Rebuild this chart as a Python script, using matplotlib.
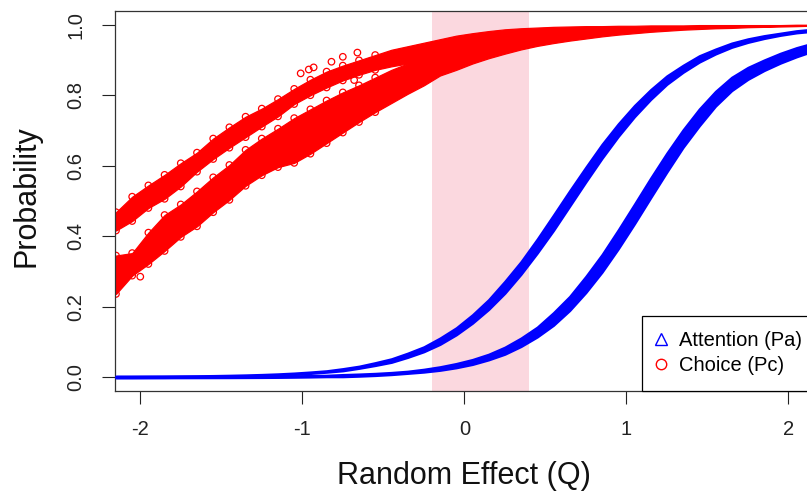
import numpy as np
import matplotlib.pyplot as plt
from matplotlib.lines import Line2D

plt.rcParams['font.family'] = ['Liberation Sans', 'DejaVu Sans']

# ---------------- data ----------------
# common x positions (Random Effect Q)
q = [-2.15, -2.05, -1.95, -1.85, -1.75, -1.65, -1.55, -1.45, -1.35, -1.25,
     -1.15, -1.05, -0.95, -0.85, -0.75, -0.65, -0.55, -0.45, -0.35, -0.25,
     -0.15, -0.05, 0.05, 0.15, 0.25, 0.35, 0.45, 0.55, 0.65, 0.75,
     0.85, 0.95, 1.05, 1.15, 1.25, 1.35, 1.45, 1.55, 1.65, 1.75,
     1.85, 1.95, 2.05, 2.12]

# Choice (Pc), upper group: lower / upper edge of the point cloud
pc1_lo = [0.416, 0.443, 0.480, 0.506, 0.541, 0.583, 0.619, 0.651, 0.681, 0.711,
          0.740, 0.775, 0.800, 0.822, 0.842, 0.858, 0.872, 0.882, 0.890, 0.900,
          0.910, 0.920, 0.930, 0.940, 0.948, 0.955, 0.960, 0.965, 0.970, 0.974,
          0.977, 0.980, 0.983, 0.986, 0.988, 0.990, 0.992, 0.993, 0.994, 0.995,
          0.996, 0.997, 0.997, 0.998]
pc1_hi = [0.468, 0.512, 0.544, 0.574, 0.607, 0.637, 0.677, 0.709, 0.739, 0.762,
          0.789, 0.818, 0.844, 0.867, 0.884, 0.899, 0.914, 0.929, 0.939, 0.949,
          0.959, 0.969, 0.976, 0.982, 0.987, 0.990, 0.992, 0.994, 0.995, 0.996,
          0.996, 0.997, 0.997, 0.998, 0.998, 0.998, 0.999, 0.999, 0.999, 0.999,
          0.999, 0.999, 1.000, 1.000]

# Choice (Pc), lower group
pc2_lo = [0.236, 0.288, 0.321, 0.358, 0.398, 0.428, 0.468, 0.503, 0.543, 0.573,
          0.596, 0.608, 0.634, 0.664, 0.694, 0.724, 0.752, 0.778, 0.804, 0.828,
          0.856, 0.872, 0.890, 0.905, 0.918, 0.930, 0.940, 0.948, 0.955, 0.961,
          0.967, 0.972, 0.976, 0.980, 0.983, 0.986, 0.988, 0.990, 0.991, 0.993,
          0.994, 0.995, 0.996, 0.997]
pc2_hi = [0.345, 0.352, 0.410, 0.460, 0.490, 0.527, 0.567, 0.602, 0.645, 0.677,
          0.705, 0.735, 0.760, 0.785, 0.808, 0.828, 0.850, 0.872, 0.890, 0.903,
          0.915, 0.925, 0.935, 0.945, 0.952, 0.958, 0.963, 0.967, 0.971, 0.975,
          0.978, 0.981, 0.984, 0.987, 0.989, 0.991, 0.992, 0.993, 0.994, 0.995,
          0.996, 0.997, 0.997, 0.998]

# stray Choice points outside the main clouds
pc_out_q = [-2.07, -2.00, -1.01, -0.96, -0.93, -0.82, -0.75, -0.66, -0.68]
pc_out_p = [0.290, 0.285, 0.862, 0.873, 0.879, 0.895, 0.909, 0.921, 0.843]

# Attention (Pa), left group: centre and half-width of the band
pa1_mid = [0.0005, 0.0006, 0.0008, 0.001, 0.0014, 0.0018, 0.0024, 0.0032, 0.0042, 0.0055,
           0.0072, 0.0095, 0.0125, 0.016, 0.021, 0.028, 0.037, 0.047, 0.062, 0.079,
           0.102, 0.130, 0.165, 0.206, 0.255, 0.310, 0.372, 0.438, 0.507, 0.575,
           0.641, 0.701, 0.755, 0.802, 0.843, 0.875, 0.903, 0.924, 0.942, 0.955,
           0.965, 0.973, 0.980, 0.983]
pa1_half = [0.002, 0.002, 0.002, 0.002, 0.002, 0.002, 0.002, 0.002, 0.002, 0.002,
            0.002, 0.002, 0.002, 0.002, 0.003, 0.003, 0.004, 0.005, 0.006, 0.007,
            0.009, 0.010, 0.012, 0.014, 0.017, 0.018, 0.020, 0.022, 0.022, 0.021,
            0.020, 0.018, 0.016, 0.014, 0.012, 0.010, 0.009, 0.007, 0.006, 0.005,
            0.004, 0.003, 0.003, 0.003]

# Attention (Pa), right group
pa2_mid = [0.0001, 0.0001, 0.0002, 0.0002, 0.0003, 0.0004, 0.0005, 0.0006, 0.0008, 0.001,
           0.0013, 0.0018, 0.0024, 0.0032, 0.0042, 0.0057, 0.0076, 0.0102, 0.0137, 0.0183,
           0.0244, 0.0326, 0.043, 0.057, 0.075, 0.099, 0.128, 0.165, 0.209, 0.263,
           0.323, 0.391, 0.463, 0.537, 0.609, 0.677, 0.737, 0.790, 0.832, 0.862,
           0.885, 0.905, 0.922, 0.932]
pa2_half = [0.002, 0.002, 0.002, 0.002, 0.002, 0.002, 0.002, 0.002, 0.002, 0.002,
            0.002, 0.002, 0.002, 0.002, 0.003, 0.003, 0.003, 0.003, 0.003, 0.004,
            0.005, 0.006, 0.007, 0.008, 0.010, 0.012, 0.014, 0.018, 0.020, 0.023,
            0.025, 0.027, 0.028, 0.028, 0.027, 0.025, 0.024, 0.021, 0.019, 0.017,
            0.015, 0.014, 0.013, 0.012]

# shaded interval of Q
band_q = [-0.2, 0.4]

RED = '#FF0000'
BLUE = '#0000FF'

# ---------------- figure ----------------
W, H = 807, 494
fig = plt.figure(figsize=(W / 100, H / 100), dpi=100)
ax = fig.add_axes([115 / W, (H - 390.5) / H, 698 / W, 379.5 / H])

ax.axvspan(band_q[0], band_q[1], color='#FBD8DF', lw=0, zorder=0)

qa = np.array(q)
left = qa < -0.5   # open circles only stand out where the cloud is sparse

# Choice clouds
for lo, hi in [(pc1_lo, pc1_hi), (pc2_lo, pc2_hi)]:
    lo = np.array(lo)
    hi = np.array(hi)
    ax.fill_between(qa, lo, hi, color=RED, lw=0.9, zorder=2)
    ax.scatter(qa[left], lo[left], s=22, marker='o', facecolors='none',
               edgecolors=RED, linewidths=0.9, zorder=2)
    ax.scatter(qa[left], hi[left], s=22, marker='o', facecolors='none',
               edgecolors=RED, linewidths=0.9, zorder=2)
ax.scatter(pc_out_q, pc_out_p, s=22, marker='o', facecolors='none',
           edgecolors=RED, linewidths=0.9, zorder=2)

# Attention clouds
for mid, half in [(pa1_mid, pa1_half), (pa2_mid, pa2_half)]:
    mid = np.array(mid)
    half = np.array(half)
    ax.fill_between(qa, mid - half, mid + half, facecolor=BLUE,
                    edgecolor=BLUE, lw=1.6, zorder=3)

ax.set_xlim(-2.156, 2.152)
ax.set_ylim(-0.038, 1.039)
ax.set_xticks([-2, -1, 0, 1, 2])
ax.set_xticklabels(['-2', '-1', '0', '1', '2'])
ax.set_yticks([0, 0.2, 0.4, 0.6, 0.8, 1.0])
ax.set_yticklabels(['0.0', '0.2', '0.4', '0.6', '0.8', '1.0'])
ax.tick_params(direction='out', length=9.4, width=0.8, labelsize=14.5,
               pad=12, colors='#222222')
for lab in ax.get_yticklabels():
    lab.set_rotation(90)
    lab.set_va('center')
for sp in ax.spines.values():
    sp.set_color('#333333')
    sp.set_linewidth(0.9)

fig.text(464.3 / W, 1 - 476 / H, 'Random Effect (Q)', fontsize=22,
         ha='center', va='center', color='#111111')
fig.text(27 / W, 1 - 196 / H, 'Probability', fontsize=22, rotation=90,
         ha='center', va='center', color='#111111')

handles = [
    Line2D([], [], ls='none', marker='^', markersize=9, markerfacecolor='none',
           markeredgecolor=BLUE, markeredgewidth=1.0),
    Line2D([], [], ls='none', marker='o', markersize=7.5, markerfacecolor='none',
           markeredgecolor=RED, markeredgewidth=1.0),
]
# the legend box runs past the right edge of the picture
leg = ax.legend(handles, ['Attention (Pa)', 'Choice (Pc)'], loc='lower right',
                bbox_to_anchor=(1.0057, 0), borderaxespad=0, fancybox=False,
                framealpha=1, edgecolor='black', fontsize=14.5,
                handlelength=0.4, handletextpad=0.7, borderpad=0.75,
                labelspacing=0.3)
leg.get_frame().set_linewidth(0.9)
leg.set_zorder(5)

fig.savefig('out.png', dpi=100)
